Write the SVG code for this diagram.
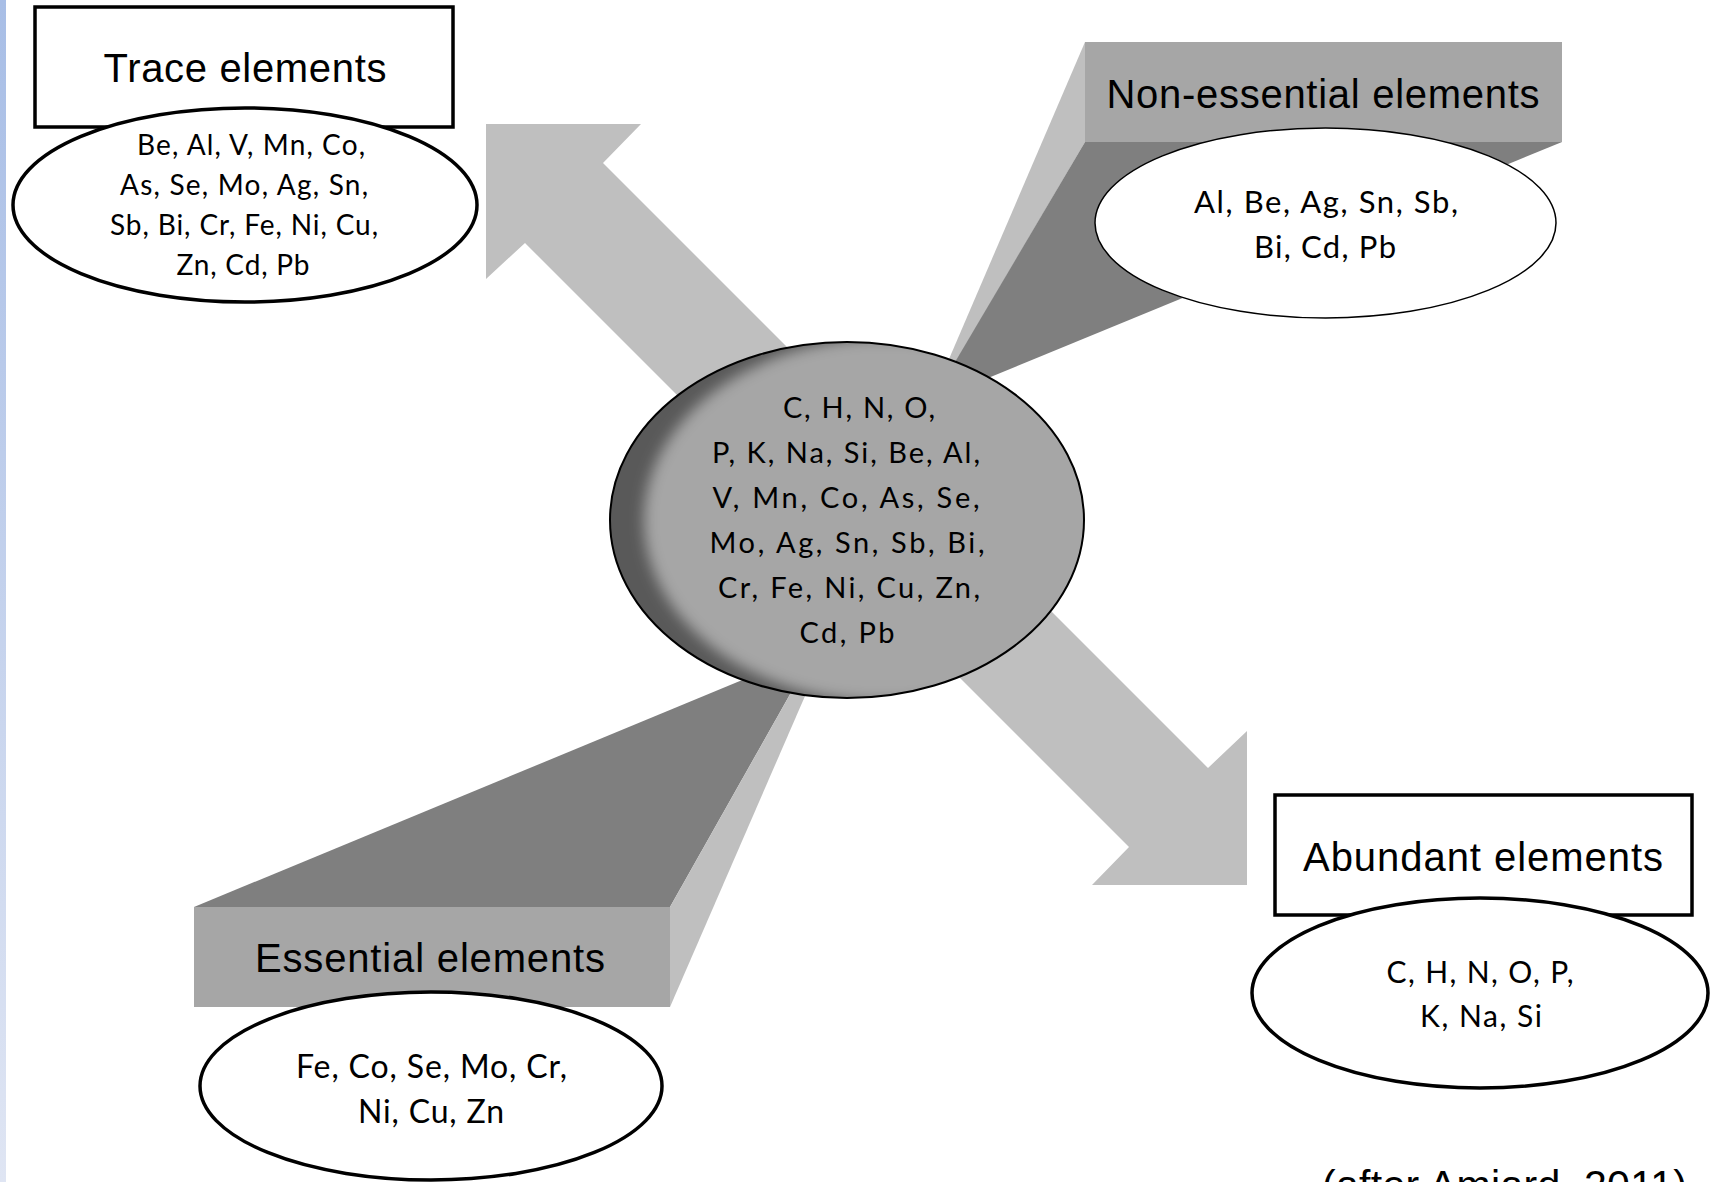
<svg xmlns="http://www.w3.org/2000/svg" width="1710" height="1182" viewBox="0 0 1710 1182">
  <style>
    .lbl { font-family: "Liberation Sans", Arial, sans-serif; font-size: 40px; fill: #000; text-anchor: middle; }
    .el { font-family: Lato, "Noto Sans", sans-serif; fill: #000; text-anchor: middle; }
    .arrow { fill: #bfbfbf; }
    .face-dark { fill: #7f7f7f; }
    .face-light { fill: #bfbfbf; }
    .face-front { fill: #a6a6a6; }
    .box { fill: #fff; stroke: #000; stroke-width: 3.5; }
    .oval-thick { fill: #fff; stroke: #000; stroke-width: 3.5; }
    .oval-thin { fill: #fff; stroke: #000; stroke-width: 1.5; }
  </style>
  <defs>
    <linearGradient id="strip" x1="0" y1="0" x2="0" y2="1">
      <stop offset="0" stop-color="#a8bee6"/>
      <stop offset="1" stop-color="#dfe5f3"/>
    </linearGradient>
    <clipPath id="cclip"><ellipse cx="847" cy="520" rx="237" ry="178"/></clipPath>
    <filter id="soft" x="-20%" y="-20%" width="140%" height="140%">
      <feGaussianBlur stdDeviation="7"/>
    </filter>
  </defs>

  <rect x="0" y="0" width="1710" height="1182" fill="#fff"/>
  <rect x="0" y="0" width="6" height="1182" fill="url(#strip)"/>

  <g id="connectors">
    <polygon class="arrow" points="486,124 641,124 603,163 833,393 755,473 525,243 486,279"/>
    <polygon class="arrow" points="1247,885 1092,885 1129,847 899,617 978,538 1208,768 1247,731"/>
  </g>

  <g id="node-nonessential">
    <polygon class="face-light" points="1085,42 1085,142 933,401 931,401"/>
    <polygon class="face-dark" points="1085,142 1562,142 932,401"/>
    <rect class="face-front" x="1085" y="42" width="477" height="100"/>
    <text class="lbl" x="1323" y="108" textLength="433">Non-essential elements</text>
    <ellipse class="oval-thin" cx="1325.5" cy="223" rx="230.5" ry="95"/>
    <text class="el" font-size="31" x="1326" y="213" textLength="264">Al, Be, Ag, Sn, Sb,</text>
    <text class="el" font-size="31" x="1325" y="258" textLength="142">Bi, Cd, Pb</text>
  </g>

  <g id="node-essential">
    <polygon class="face-dark" points="194,907 670,907 815,650"/>
    <polygon class="face-light" points="670,907 670,1007 825,650 815,650"/>
    <rect class="face-front" x="194" y="907" width="476" height="100"/>
    <text class="lbl" x="430" y="972" textLength="350">Essential elements</text>
    <ellipse class="oval-thick" cx="431" cy="1086" rx="231" ry="94"/>
    <text class="el" font-size="32" x="431.5" y="1078" textLength="271">Fe, Co, Se, Mo, Cr,</text>
    <text class="el" font-size="32" x="431" y="1123" textLength="146">Ni, Cu, Zn</text>
  </g>

  <g id="node-trace">
    <rect class="box" x="35" y="7" width="418" height="120"/>
    <text class="lbl" x="245" y="82" textLength="283">Trace elements</text>
    <ellipse class="oval-thick" cx="245" cy="205" rx="232" ry="97"/>
    <text class="el" font-size="28" x="251" y="155" textLength="228">Be, Al, V, Mn, Co,</text>
    <text class="el" font-size="28" x="244" y="195" textLength="248">As, Se, Mo, Ag, Sn,</text>
    <text class="el" font-size="28" x="244" y="235" textLength="268">Sb, Bi, Cr, Fe, Ni, Cu,</text>
    <text class="el" font-size="28" x="243" y="275" textLength="133">Zn, Cd, Pb</text>
  </g>

  <g id="node-abundant">
    <rect class="box" x="1275" y="795" width="417" height="120"/>
    <text class="lbl" x="1483" y="871" textLength="360">Abundant elements</text>
    <ellipse class="oval-thick" cx="1480" cy="993" rx="228" ry="95"/>
    <text class="el" font-size="30" x="1480" y="983" textLength="187">C, H, N, O, P,</text>
    <text class="el" font-size="30" x="1481" y="1027" textLength="122">K, Na, Si</text>
  </g>

  <g id="node-center">
    <g clip-path="url(#cclip)">
      <rect x="600" y="330" width="500" height="380" fill="#595959"/>
      <ellipse cx="884" cy="520" rx="240" ry="182" fill="#a6a6a6" filter="url(#soft)"/>
    </g>
    <ellipse cx="847" cy="520" rx="237" ry="178" fill="none" stroke="#000" stroke-width="2"/>
    <text class="el" font-size="29" x="859" y="418" textLength="152">C, H, N, O,</text>
    <text class="el" font-size="29" x="846" y="463" textLength="268">P, K, Na, Si, Be, Al,</text>
    <text class="el" font-size="29" x="846" y="508" textLength="267">V, Mn, Co, As, Se,</text>
    <text class="el" font-size="29" x="847" y="553" textLength="275">Mo, Ag, Sn, Sb, Bi,</text>
    <text class="el" font-size="29" x="849" y="598" textLength="262">Cr, Fe, Ni, Cu, Zn,</text>
    <text class="el" font-size="29" x="847" y="643" textLength="95">Cd, Pb</text>
  </g>

  <text id="citation" x="1322" y="1199" font-family="'Liberation Sans', Arial, sans-serif" font-size="41" textLength="365">(after Amiard, 2011)</text>
</svg>
